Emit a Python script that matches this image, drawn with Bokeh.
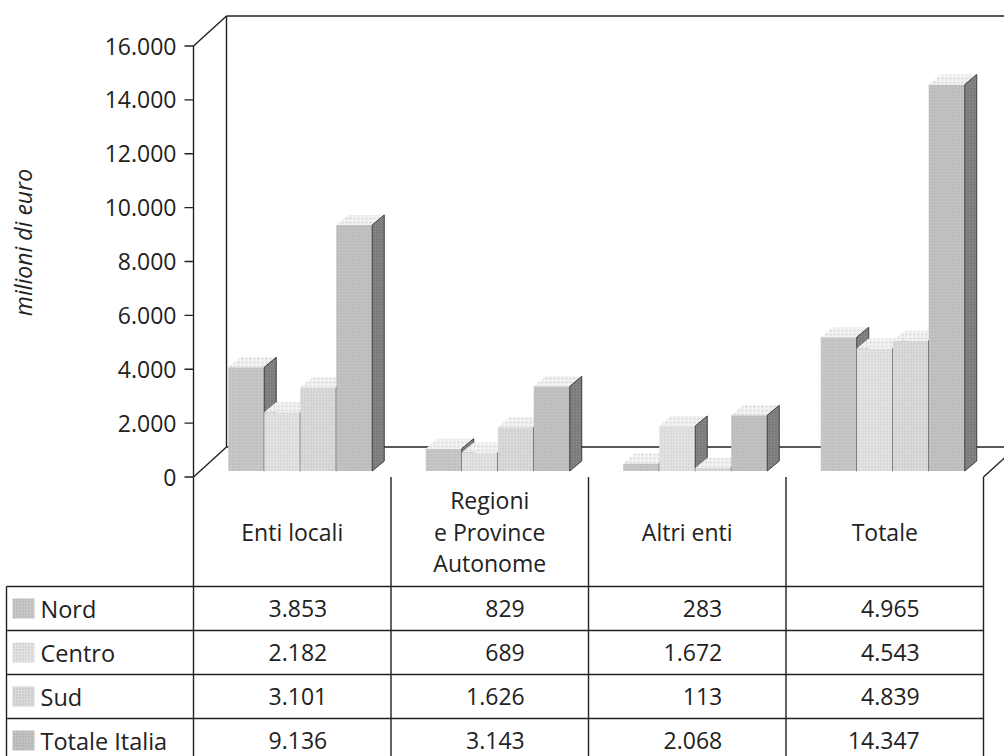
from bokeh.plotting import figure
from bokeh.models import Range1d
from bokeh.embed import file_html
from bokeh.resources import INLINE
from bokeh.core.properties import value
import math

# ---- data (milioni di euro) ----
categories = ["Enti locali", "Regioni\ne Province\nAutonome", "Altri enti", "Totale"]
series_names = ["Nord", "Centro", "Sud", "Totale Italia"]
nord = [3853, 829, 283, 4965]
centro = [2182, 689, 1672, 4543]
sud = [3101, 1626, 113, 4839]
totale_italia = [9136, 3143, 2068, 14347]
y_ticks = [0, 2000, 4000, 6000, 8000, 10000, 12000, 14000, 16000]
y_title = "milioni di euro"

series_values = [nord, centro, sud, totale_italia]
front_colors = ["#c8c8c8", "#e3e3e3", "#dadada", "#c2c2c2"]
top_color = "#f2f2f2"
side_color = "#848484"
ink = "#222222"
FONT = value("Open Sans")


def it_num(v):
    return f"{v:,}".replace(",", ".")


# ---- layout (pixels on the page; values on the vertical scale) ----
W, H = 1004, 756
BASE_PX = 476.5                 # page row of value 0 on the front axis
PX_PER_UNIT = 431.0 / 16000.0   # vertical scale
AXIS_X = 193
COL_W = 197.5
N_COLS = len(categories)
RIGHT_X = AXIS_X + COL_W * N_COLS
DEPTH_X, DEPTH_PX = 33, 30      # depth of the box (walls/floor)
BAR_W = 36
BAR_DX, BAR_DPX = 12, 10        # depth of each bar
BAR_SHIFT_X, BAR_LIFT_PX = 8, 6


def vy(px):
    """page row (pixels from top) -> value on the vertical scale"""
    return (BASE_PX - px) / PX_PER_UNIT


def du(px):
    return px / PX_PER_UNIT


p = figure(width=W, height=H, x_range=Range1d(0, W),
           y_range=Range1d(vy(H), vy(0)),
           output_backend="svg", toolbar_location=None,
           min_border=0, min_border_left=0, min_border_right=0,
           min_border_top=0, min_border_bottom=0)
p.axis.visible = False
p.grid.visible = False
p.outline_line_color = None
p.background_fill_color = "white"
p.border_fill_color = "white"

LW = 1.4
top_val = y_ticks[-1]
dz = du(DEPTH_PX)

# ---- box: back wall and floor ----
p.segment(x0=[AXIS_X + DEPTH_X, AXIS_X + DEPTH_X, AXIS_X + DEPTH_X, AXIS_X, AXIS_X, RIGHT_X],
          y0=[dz, dz, top_val + dz, top_val, 0, 0],
          x1=[AXIS_X + DEPTH_X, W + 40, W + 40, AXIS_X + DEPTH_X, AXIS_X + DEPTH_X, RIGHT_X + DEPTH_X],
          y1=[top_val + dz, dz, top_val + dz, top_val + dz, dz, dz],
          line_color=ink, line_width=LW)

# ---- front value axis ----
p.segment(x0=[AXIS_X], y0=[0], x1=[AXIS_X], y1=[top_val], line_color=ink, line_width=LW)
p.segment(x0=[AXIS_X - 9] * len(y_ticks), y0=y_ticks,
          x1=[AXIS_X] * len(y_ticks), y1=y_ticks, line_color=ink, line_width=LW)
p.text(x=[AXIS_X - 17] * len(y_ticks), y=y_ticks, text=[it_num(t) for t in y_ticks],
       text_font=FONT, text_font_size="23px", text_color=ink,
       text_align="right", text_baseline="middle")
p.text(x=[22], y=[vy(242)], text=[y_title], angle=math.pi / 2,
       text_font=FONT, text_font_size="23px", text_font_style="italic",
       text_color=ink, text_align="center", text_baseline="middle")

# ---- 3D bars: series drawn left to right so each bar hides its neighbour's side ----
lift = du(BAR_LIFT_PX)
bdz = du(BAR_DPX)
for j, vals in enumerate(series_values):
    left = [AXIS_X + COL_W * i + (COL_W - BAR_W * len(series_values)) / 2 + BAR_SHIFT_X + BAR_W * j
            for i in range(N_COLS)]
    right = [l + BAR_W for l in left]
    bottom = [lift] * N_COLS
    top = [lift + v for v in vals]
    p.quad(left=left, right=right, bottom=bottom, top=top,
           fill_color=front_colors[j], line_color=None,
           hatch_pattern="dot", hatch_color="#6a6a6a", hatch_alpha=0.22,
           hatch_scale=3, hatch_weight=0.8)
    p.patches(xs=[[l, r, r + BAR_DX, l + BAR_DX] for l, r in zip(left, right)],
              ys=[[t, t, t + bdz, t + bdz] for t in top],
              fill_color=top_color, line_color=None,
              hatch_pattern="dot", hatch_color="#777777", hatch_alpha=0.25,
              hatch_scale=4, hatch_weight=0.7)
    p.patches(xs=[[r, r + BAR_DX, r + BAR_DX, r] for r in right],
              ys=[[b, b + bdz, t + bdz, t] for b, t in zip(bottom, top)],
              fill_color=side_color, line_color="#333333", line_width=0.9,
              hatch_pattern="dot", hatch_color="#333333", hatch_alpha=0.35,
              hatch_scale=3, hatch_weight=0.8)

# ---- data table ----
HEAD_BOTTOM_PX = 586
ROW_H = 44
TABLE_LEFT = 6
n_rows = len(series_names)
row_tops = [HEAD_BOTTOM_PX + ROW_H * k for k in range(n_rows)]
col_edges = [AXIS_X + COL_W * i for i in range(N_COLS + 1)]

# horizontal rules
p.segment(x0=[TABLE_LEFT] * n_rows, y0=[vy(r) for r in row_tops],
          x1=[RIGHT_X] * n_rows, y1=[vy(r) for r in row_tops],
          line_color=ink, line_width=LW)
# vertical rules
p.segment(x0=col_edges, y0=[0] * len(col_edges), x1=col_edges, y1=[vy(H + 10)] * len(col_edges),
          line_color=ink, line_width=LW)
p.segment(x0=[TABLE_LEFT], y0=[vy(HEAD_BOTTOM_PX)], x1=[TABLE_LEFT], y1=[vy(H + 10)],
          line_color=ink, line_width=LW)

# column headers
head_mid = (BASE_PX + HEAD_BOTTOM_PX) / 2
LINE_H = 31.5
hx, hy, ht = [], [], []
for i, cat in enumerate(categories):
    lines = cat.split("\n")
    for k, ln in enumerate(lines):
        hx.append(AXIS_X + COL_W * (i + 0.5))
        hy.append(vy(head_mid + (k - (len(lines) - 1) / 2) * LINE_H))
        ht.append(ln)
p.text(x=hx, y=hy, text=ht, text_font=FONT, text_font_size="23px", text_color=ink,
       text_align="center", text_baseline="middle")

# rows: swatch, series name and values
row_mid = [r + ROW_H / 2 for r in row_tops]
p.quad(left=[12] * n_rows, right=[34] * n_rows,
       bottom=[vy(m + 10) for m in row_mid], top=[vy(m - 10) for m in row_mid],
       fill_color=front_colors, line_color=None,
       hatch_pattern="dot", hatch_color="#6a6a6a", hatch_alpha=0.3,
       hatch_scale=3, hatch_weight=0.8)
p.text(x=[40] * n_rows, y=[vy(m) for m in row_mid], text=series_names,
       text_font=FONT, text_font_size="23.5px", text_color=ink,
       text_align="left", text_baseline="middle")
vx, vyy, vt = [], [], []
for k, vals in enumerate(series_values):
    for i, v in enumerate(vals):
        vx.append(AXIS_X + COL_W * (i + 0.5) + 35)
        vyy.append(vy(row_mid[k]))
        vt.append(it_num(v))
p.text(x=vx, y=vyy, text=vt, text_font=FONT, text_font_size="23px", text_color=ink,
       text_align="right", text_baseline="middle")

open("out.html", "w").write(file_html(p, INLINE))
